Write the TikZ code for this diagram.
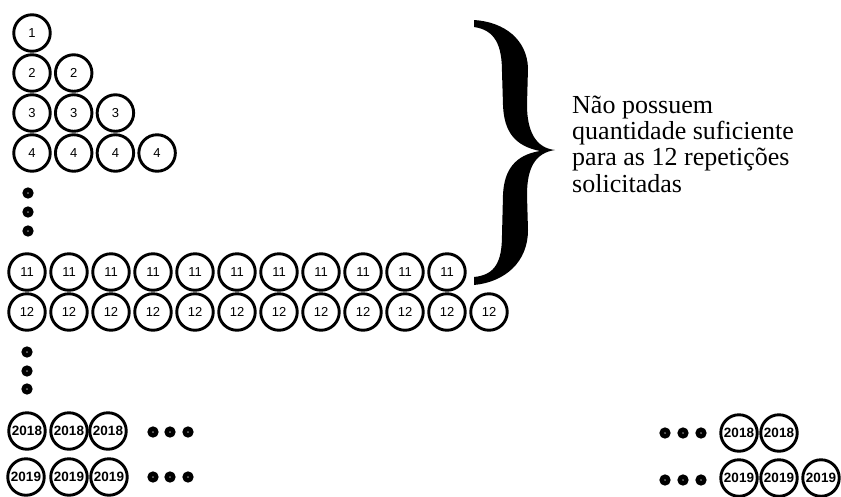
\documentclass[tikz,border=0pt]{standalone}
\usepackage{fontspec}
\setmainfont{Liberation Serif}
\newfontfamily\numfont{Liberation Sans}
\begin{document}
\begin{tikzpicture}[x=1pt,y=-1pt,
 ball/.style={circle,draw,line width=2.9pt,minimum size=36.5pt,inner sep=0pt,font=\numfont\fontsize{13}{14}\selectfont},
 bigball/.style={ball,font=\numfont\bfseries\fontsize{13.5}{14}\selectfont},
 dotmark/.style={circle,draw,line width=4.6pt,minimum size=6.4pt,inner sep=0pt}]
\useasboundingbox (0,0) rectangle (841,496);
% rows 1-4
\foreach \r/\y in {1/33,2/73,3/113,4/153}{
  \foreach \c in {1,...,\r}{
    \node[ball] (n\r-\c) at ({32+41.7*(\c-1)},\y) {\r};
  }
}
% vertical dots
\foreach \i/\y in {1/193,2/212,3/231}{\node[dotmark] (va\i) at (28,\y) {};}
% rows 11, 12
\foreach \c in {1,...,11}{\node[ball] (n11-\c) at ({27+42*(\c-1)},272) {11};}
\foreach \c in {1,...,12}{\node[ball] (n12-\c) at ({27+42*(\c-1)},312) {12};}
\foreach \i/\y in {1/352,2/371,3/389}{\node[dotmark] (vb\i) at (27,\y) {};}
% rows 2018, 2019 left
\foreach \c/\x in {1/27,2/69,3/108}{\node[bigball] (a\c) at (\x,431) {2018};}
\foreach \c/\x in {1/26,2/69,3/109}{\node[bigball] (b\c) at (\x,477) {2019};}
\foreach \i/\x in {1/153,2/170,3/188}{\node[dotmark] (ha\i) at (\x,432) {};}
\foreach \i/\x in {1/153,2/170,3/188}{\node[dotmark] (hb\i) at (\x,477) {};}
% right side
\foreach \i/\x in {1/665,2/683,3/701}{\node[dotmark] (hc\i) at (\x,433) {};}
\foreach \i/\x in {1/665,2/683,3/701}{\node[dotmark] (hd\i) at (\x,480) {};}
\foreach \c/\x in {1/739,2/779}{\node[bigball] (c\c) at (\x,433) {2018};}
\foreach \c/\x in {1/739,2/779,3/821}{\node[bigball] (d\c) at (\x,478) {2019};}
% brace
\fill (474,20) .. controls (505,22) and (527,40) .. (528,68) -- (527,105)
  .. controls (527,130) and (535,148) .. (555,150)
  .. controls (535,153) and (527,168) .. (527,195) -- (528,230)
  .. controls (528,262) and (505,282) .. (474,285) -- (474,277)
  .. controls (495,275) and (502,262) .. (502,235) -- (503,195)
  .. controls (504,170) and (515,155) .. (540,151)
  .. controls (515,146) and (504,132) .. (503,105) -- (502,72)
  .. controls (502,45) and (495,30) .. (474,27) -- cycle;
% text
\node[anchor=base west,align=left,inner sep=0pt,font=\fontsize{26}{26.3}\selectfont] (txt) at (572,192)
  {Não possuem\\quantidade suficiente\\para as 12 repetições\\solicitadas};
\end{tikzpicture}
\end{document}
